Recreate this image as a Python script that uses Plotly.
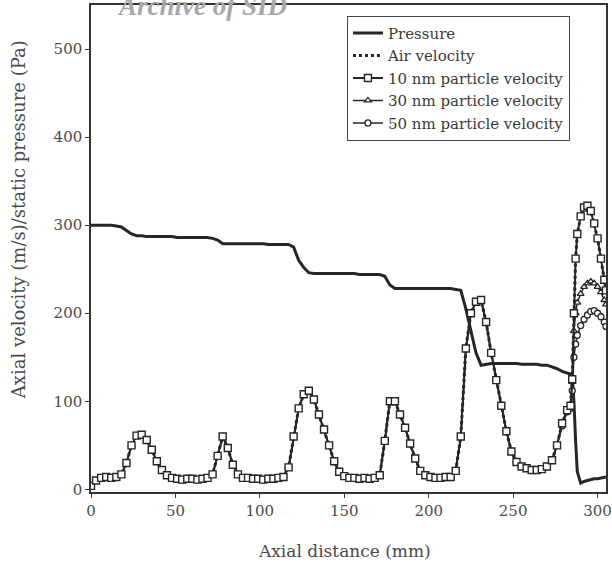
import plotly.graph_objects as go

axial_mm = [0, 3, 6, 9, 12, 15, 18, 21, 24, 27, 30, 33, 36, 39, 42, 45, 48, 51, 54, 57,
            60, 63, 66, 69, 72, 75, 78, 81, 84, 87, 90, 93, 96, 99, 102, 105, 108, 111, 114, 117,
            120, 123, 126, 129, 132, 135, 138, 141, 144, 147, 150, 153, 156, 159, 162, 165, 168, 171, 174, 177,
            180, 183, 186, 189, 192, 195, 198, 201, 204, 207, 210, 213, 216, 219, 222, 225, 228, 231, 234, 237,
            240, 243, 246, 249, 252, 255, 258, 261, 264, 267, 270, 273, 276, 279, 282,
            284, 285, 286, 287, 288, 290, 292, 294, 296, 298, 300, 302, 304, 305]

pressure = [300, 300, 300, 300, 300, 299, 298, 294, 290, 288, 288, 287, 287, 287, 287, 287, 287, 286, 286, 286,
            286, 286, 286, 286, 285, 283, 279, 279, 279, 279, 279, 279, 279, 279, 279, 278, 278, 278, 278, 278,
            275, 260, 252, 246, 245, 245, 245, 245, 245, 245, 245, 245, 245, 244, 244, 244, 244, 244, 242, 232,
            228, 228, 228, 228, 228, 228, 228, 228, 228, 228, 228, 228, 227, 226, 205, 180, 155, 141, 142, 143,
            143, 143, 143, 143, 143, 142, 142, 142, 142, 141, 141, 139, 137, 134, 132,
            131, 128, 100, 55, 20, 7, 9, 10, 11, 12, 12, 13, 14, 14]

air_velocity = [4, 10, 13, 14, 13, 14, 17, 30, 50, 61, 62, 56, 45, 32, 22, 16, 13, 12, 11, 12,
                12, 11, 12, 13, 17, 38, 60, 47, 28, 17, 13, 13, 12, 12, 11, 12, 12, 13, 14, 25,
                60, 92, 108, 112, 102, 85, 68, 50, 32, 20, 15, 13, 13, 12, 13, 12, 13, 16, 55, 100,
                100, 85, 70, 52, 35, 21, 16, 14, 13, 13, 14, 14, 21, 60, 160, 200, 213, 215, 190, 155,
                124, 95, 66, 43, 31, 26, 24, 22, 22, 23, 26, 33, 50, 75, 90,
                95, 125, 200, 262, 290, 310, 320, 322, 316, 302, 285, 262, 238, 226]

v10nm = [4, 10, 13, 14, 13, 14, 17, 30, 50, 61, 62, 56, 45, 32, 22, 16, 13, 12, 11, 12,
         12, 11, 12, 13, 17, 38, 60, 47, 28, 17, 13, 13, 12, 12, 11, 12, 12, 13, 14, 25,
         60, 92, 108, 112, 102, 85, 68, 50, 32, 20, 15, 13, 13, 12, 13, 12, 13, 16, 55, 100,
         100, 85, 70, 52, 35, 21, 16, 14, 13, 13, 14, 14, 21, 60, 160, 200, 213, 215, 190, 155,
         124, 95, 66, 43, 31, 26, 24, 22, 22, 23, 26, 33, 50, 75, 90,
         95, 125, 200, 262, 290, 310, 320, 322, 316, 302, 285, 262, 238, 226]

v30nm = [4, 10, 13, 14, 13, 14, 17, 30, 50, 61, 62, 56, 45, 32, 22, 16, 13, 12, 11, 12,
         12, 11, 12, 13, 17, 38, 60, 47, 28, 17, 13, 13, 12, 12, 11, 12, 12, 13, 14, 25,
         60, 92, 108, 112, 102, 85, 68, 50, 32, 20, 15, 13, 13, 12, 13, 12, 13, 16, 55, 100,
         100, 85, 70, 52, 35, 21, 16, 14, 13, 13, 14, 14, 21, 60, 160, 200, 213, 215, 190, 155,
         124, 95, 66, 43, 31, 26, 24, 22, 22, 23, 26, 33, 50, 75, 90,
         95, 122, 180, 200, 212, 222, 230, 234, 236, 234, 230, 224, 215, 210]

v50nm = [4, 10, 13, 14, 13, 14, 17, 30, 50, 61, 62, 56, 45, 32, 22, 16, 13, 12, 11, 12,
         12, 11, 12, 13, 17, 38, 60, 47, 28, 17, 13, 13, 12, 12, 11, 12, 12, 13, 14, 25,
         60, 92, 108, 112, 102, 85, 68, 50, 32, 20, 15, 13, 13, 12, 13, 12, 13, 16, 55, 100,
         100, 85, 70, 52, 35, 21, 16, 14, 13, 13, 14, 14, 21, 60, 160, 200, 213, 215, 190, 155,
         124, 95, 66, 43, 31, 26, 24, 22, 22, 23, 26, 33, 50, 72, 88,
         92, 112, 150, 165, 175, 186, 193, 198, 202, 203, 200, 196, 190, 185]

for s in (pressure, air_velocity, v10nm, v30nm, v50nm):
    assert len(s) == len(axial_mm), len(s)

x_ticks = [0, 50, 100, 150, 200, 250, 300]
y_ticks = [0, 100, 200, 300, 400, 500]

INK = "#262626"
TXT = "#4a4a4a"
FONT = "DejaVu Serif"

fig = go.Figure()
fig.add_trace(go.Scatter(x=axial_mm, y=pressure, name="Pressure", mode="lines",
                         line=dict(color=INK, width=3), legendrank=1))
fig.add_trace(go.Scatter(x=axial_mm, y=air_velocity, name="Air velocity", mode="lines",
                         line=dict(color=INK, width=3, dash="dot"), legendrank=2))
fig.add_trace(go.Scatter(x=axial_mm, y=v50nm, name="50 nm particle velocity", mode="lines+markers",
                         line=dict(color=INK, width=1.5), legendrank=5,
                         marker=dict(symbol="circle", size=6, color="white",
                                     line=dict(width=1.3, color=INK))))
fig.add_trace(go.Scatter(x=axial_mm, y=v30nm, name="30 nm particle velocity", mode="lines+markers",
                         line=dict(color=INK, width=1.5), legendrank=4,
                         marker=dict(symbol="triangle-up", size=6, color="white",
                                     line=dict(width=1.3, color=INK))))
fig.add_trace(go.Scatter(x=axial_mm, y=v10nm, name="10 nm particle velocity", mode="lines+markers",
                         line=dict(color=INK, width=2), legendrank=3,
                         marker=dict(symbol="square", size=7, color="white",
                                     line=dict(width=1.4, color=INK))))

fig.update_layout(
    width=612, height=565,
    margin=dict(l=91, r=6, t=5, b=73, autoexpand=False),
    paper_bgcolor="white", plot_bgcolor="white",
    font=dict(family=FONT, size=14, color=TXT),
    showlegend=True,
    legend=dict(x=0.497, y=0.978, xanchor="left", yanchor="top",
                bgcolor="white", bordercolor="#444", borderwidth=1,
                font=dict(family=FONT, size=15, color="#3a3a3a"),
                traceorder="normal", tracegroupgap=0, itemwidth=30),
    xaxis=dict(range=[0, 305], tickvals=x_ticks, ticks="outside", ticklen=4,
               tickcolor="#333", showline=True, linecolor="#333", linewidth=1.5,
               mirror=True, showgrid=False, zeroline=False, automargin=False,
               tickfont=dict(family=FONT, size=15, color=TXT)),
    yaxis=dict(range=[-3, 550], tickvals=y_ticks, ticks="outside", ticklen=4,
               tickcolor="#333", showline=True, linecolor="#333", linewidth=1.5,
               mirror=True, showgrid=False, zeroline=False, automargin=False,
               tickfont=dict(family=FONT, size=15, color=TXT)),
)

fig.add_annotation(text="Axial velocity (m/s)/static pressure (Pa)", textangle=-90,
                   xref="paper", yref="paper", x=-0.142, y=0.56, xanchor="center", yanchor="middle",
                   showarrow=False, font=dict(family=FONT, size=18, color=TXT))
fig.add_annotation(text="Axial distance (mm)",
                   xref="paper", yref="paper", x=0.493, y=-0.121, xanchor="center", yanchor="middle",
                   showarrow=False, font=dict(family=FONT, size=17, color=TXT))
fig.add_annotation(text="Archive of SID", xref="paper", yref="paper", x=0.216, y=0.998,
                   xanchor="center", yanchor="middle", showarrow=False,
                   font=dict(family="Liberation Serif", size=27, color="#a8a8a8",
                             style="italic", weight="bold"))

fig.write_html("out.html", config={"displayModeBar": False},
               post_script="document.body.style.margin='0';")
